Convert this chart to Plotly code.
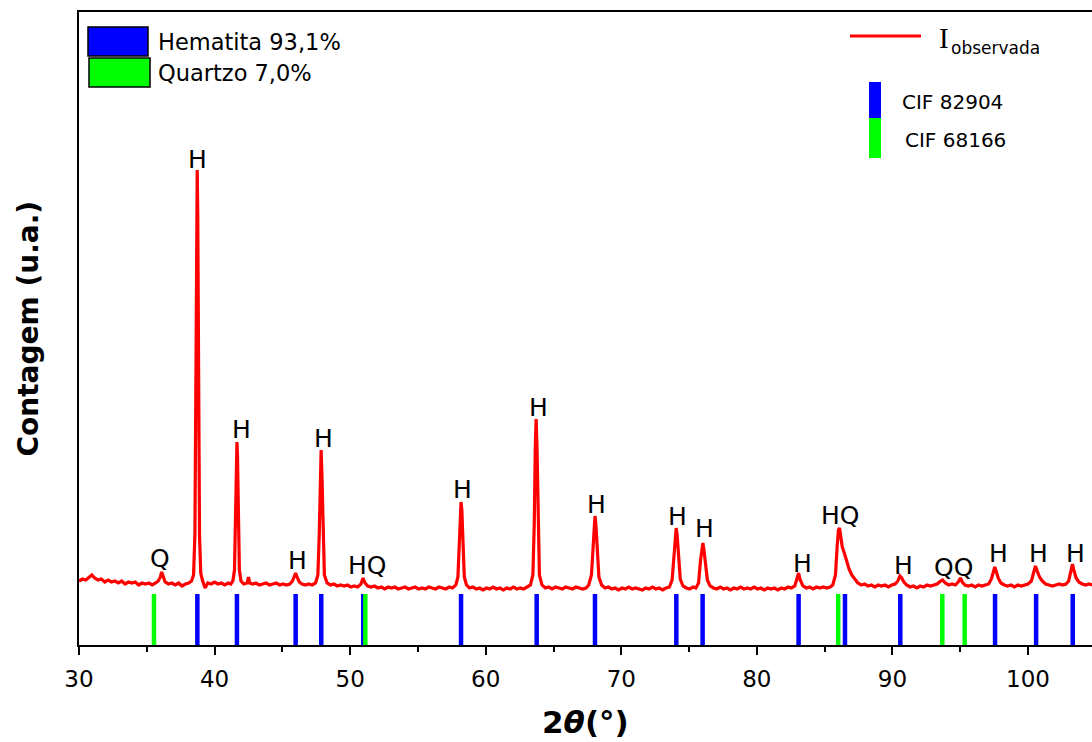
import plotly.graph_objects as go

# ---------------- data ----------------
obs_x = [30.0, 30.25, 30.5, 30.75, 30.95, 31.15, 31.4, 31.65, 31.9, 32.15, 32.4, 32.65, 32.9, 33.15, 33.4,
         33.65, 33.9, 34.15, 34.4, 34.65, 34.9, 35.15, 35.4, 35.65, 35.85, 36.0, 36.1, 36.2, 36.35, 36.6,
         36.85, 37.1, 37.35, 37.6, 37.85, 38.1, 38.3, 38.45, 38.55, 38.62, 38.68, 38.72, 38.76, 38.82, 38.89,
         38.98, 39.1, 39.3, 39.5, 39.75, 40.0, 40.25, 40.5, 40.75, 41.0, 41.2, 41.35, 41.47, 41.55, 41.61,
         41.65, 41.69, 41.75, 41.83, 41.95, 42.15, 42.4, 42.5, 42.6, 42.8, 43.05, 43.3, 43.55, 43.8, 44.05,
         44.3, 44.55, 44.8, 45.05, 45.3, 45.55, 45.75, 45.9, 45.98, 46.08, 46.25, 46.45, 46.7, 46.95, 47.2,
         47.45, 47.62, 47.72, 47.8, 47.86, 47.92, 48.0, 48.1, 48.3, 48.55, 48.8, 49.05, 49.3, 49.55, 49.8,
         50.05, 50.3, 50.55, 50.8, 50.95, 51.1, 51.3, 51.55, 51.8, 52.05, 52.3, 52.55, 52.8, 53.05, 53.3,
         53.55, 53.8, 54.05, 54.3, 54.55, 54.8, 55.05, 55.3, 55.55, 55.8, 56.05, 56.3, 56.55, 56.8, 57.05,
         57.3, 57.55, 57.8, 57.95, 58.05, 58.13, 58.18, 58.24, 58.32, 58.42, 58.58, 58.8, 59.05, 59.3, 59.55,
         59.8, 60.05, 60.3, 60.55, 60.8, 61.05, 61.3, 61.55, 61.8, 62.05, 62.3, 62.55, 62.8, 63.05, 63.3,
         63.48, 63.58, 63.66, 63.72, 63.78, 63.86, 63.96, 64.15, 64.4, 64.65, 64.9, 65.15, 65.4, 65.65, 65.9,
         66.15, 66.4, 66.65, 66.9, 67.15, 67.4, 67.6, 67.8, 67.92, 68.0, 68.06, 68.12, 68.22, 68.35, 68.55,
         68.8, 69.05, 69.3, 69.55, 69.8, 70.05, 70.3, 70.55, 70.8, 71.05, 71.3, 71.55, 71.8, 72.05, 72.3,
         72.55, 72.8, 73.05, 73.3, 73.55, 73.75, 73.88, 73.98, 74.05, 74.12, 74.22, 74.35, 74.55, 74.8, 75.05,
         75.3, 75.5, 75.7, 75.85, 75.95, 76.02, 76.1, 76.22, 76.35, 76.55, 76.8, 77.05, 77.3, 77.55, 77.8,
         78.05, 78.3, 78.55, 78.8, 79.05, 79.3, 79.55, 79.8, 80.05, 80.3, 80.55, 80.8, 81.05, 81.3, 81.55,
         81.8, 82.05, 82.3, 82.55, 82.8, 82.95, 83.08, 83.2, 83.4, 83.65, 83.9, 84.15, 84.4, 84.65, 84.9,
         85.15, 85.4, 85.6, 85.8, 85.93, 86.02, 86.1, 86.18, 86.3, 86.45, 86.6, 86.8, 87.0, 87.2, 87.45,
         87.7, 87.95, 88.2, 88.45, 88.7, 88.95, 89.2, 89.45, 89.7, 89.95, 90.2, 90.4, 90.55, 90.68, 90.85,
         91.05, 91.3, 91.55, 91.8, 92.05, 92.3, 92.55, 92.8, 93.05, 93.3, 93.55, 93.7, 93.9, 94.15, 94.4,
         94.65, 94.85, 95.02, 95.15, 95.35, 95.6, 95.85, 96.1, 96.35, 96.6, 96.85, 97.1, 97.3, 97.45, 97.55,
         97.65, 97.8, 98.0, 98.25, 98.5, 98.75, 99.0, 99.25, 99.5, 99.75, 100.0, 100.25, 100.42, 100.55, 100.68,
         100.85, 101.05, 101.3, 101.55, 101.8, 102.05, 102.3, 102.55, 102.8, 103.0, 103.15, 103.28, 103.4, 103.55, 103.75,
         104.0, 104.25, 104.5, 104.75, 105.0]
obs_y = [64, 66, 65, 68, 70, 67, 65, 66, 63, 65, 63, 64, 62, 64, 61,
         63, 62, 63, 60, 62, 61, 62, 60, 62, 64, 68, 73, 69, 63, 61,
         62, 60, 62, 59, 61, 62, 64, 70, 110, 260, 430, 475, 430, 260, 110,
         72, 65, 57, 62, 61, 63, 61, 62, 60, 62, 61, 64, 75, 130, 190,
         203, 190, 130, 75, 64, 61, 62, 68, 62, 61, 62, 60, 61, 62, 60,
         61, 62, 60, 61, 60, 61, 64, 70, 72, 68, 63, 61, 60, 61, 60,
         62, 70, 110, 170, 195, 170, 110, 70, 62, 60, 61, 59, 60, 59, 60,
         58, 59, 58, 61, 67, 62, 59, 58, 59, 57, 58, 56, 58, 57, 58,
         56, 57, 58, 56, 57, 58, 56, 57, 56, 58, 57, 56, 58, 57, 56,
         58, 57, 60, 68, 100, 135, 143, 135, 100, 68, 60, 57, 58, 56, 57,
         55, 57, 56, 58, 56, 57, 55, 57, 56, 58, 56, 57, 56, 58, 60,
         70, 120, 200, 226, 200, 120, 70, 60, 57, 58, 56, 58, 57, 56, 58,
         57, 56, 58, 57, 56, 57, 60, 70, 105, 125, 129, 122, 95, 68, 60,
         57, 58, 56, 57, 55, 57, 56, 58, 56, 57, 56, 55, 57, 56, 58,
         56, 57, 55, 57, 58, 65, 90, 112, 117, 110, 88, 66, 59, 57, 56,
         58, 57, 62, 85, 100, 102, 95, 78, 65, 59, 57, 56, 58, 56, 57,
         55, 57, 56, 58, 56, 57, 56, 58, 56, 57, 55, 57, 56, 57, 55,
         57, 56, 58, 57, 59, 66, 72, 65, 59, 57, 58, 56, 58, 57, 58,
         57, 58, 60, 70, 100, 115, 117, 110, 98, 92, 84, 76, 70, 66, 62,
         60, 61, 59, 60, 58, 60, 59, 60, 58, 60, 61, 64, 69, 67, 63,
         60, 58, 59, 57, 59, 58, 60, 59, 60, 61, 64, 65, 62, 60, 61,
         60, 63, 67, 63, 60, 59, 60, 58, 60, 59, 60, 61, 66, 75, 78,
         74, 67, 62, 60, 59, 60, 58, 60, 59, 60, 61, 64, 74, 79, 74,
         68, 64, 61, 60, 59, 60, 61, 60, 61, 64, 72, 81, 74, 67, 63,
         61, 60, 61, 60, 61]

hem_pos = [38.73, 41.65, 45.98, 47.87, 50.97, 58.18, 63.76, 68.06, 74.06, 76.0,
           83.08, 86.5, 90.58, 97.57, 100.6, 103.3]
qtz_pos = [35.53, 51.12, 86.0, 93.68, 95.33]
stick_top = 51

peak_text = ["Q", "H", "H", "H", "H", "HQ", "H", "H", "H", "H", "H", "H", "HQ", "H", "QQ", "H", "H", "H"]
peak_x = [35.97, 38.77, 41.95, 46.08, 48.0, 51.24, 58.3, 63.9, 68.2, 74.11, 76.17, 83.4, 86.13, 90.8,
          94.5, 97.8, 100.8, 103.5]
peak_y = [87, 486, 216, 85, 207, 80, 156, 238, 141, 129, 117, 82, 130, 80, 78, 92, 92, 92]

x_ticks = [30, 40, 50, 60, 70, 80, 90, 100]

FONT = "DejaVu Sans"

# ---------------- figure ----------------
fig = go.Figure()

fig.add_trace(go.Scatter(x=obs_x, y=obs_y, mode="lines",
                         line=dict(color="#ff0000", width=3.2), showlegend=False))


def sticks(pos):
    xs, ys = [], []
    for p in pos:
        xs += [p, p, None]
        ys += [0, stick_top, None]
    return xs, ys


hx, hy = sticks(hem_pos)
qx, qy = sticks(qtz_pos)
fig.add_trace(go.Scatter(x=hx, y=hy, mode="lines", line=dict(color="#0000ff", width=4.5),
                         showlegend=False))
fig.add_trace(go.Scatter(x=qx, y=qy, mode="lines", line=dict(color="#00ff00", width=4.5),
                         showlegend=False))

ann = []
for t, x, y in zip(peak_text, peak_x, peak_y):
    ann.append(dict(x=x, y=y, xref="x", yref="y", text=t, showarrow=False,
                    font=dict(family=FONT, size=25, color="black"),
                    xanchor="center", yanchor="middle"))

# plot-area geometry (pixels) for paper coordinates
L, R, T, B = 79, 1092, 12, 645
W, H = R - L, B - T


def px(x):
    return (x - L) / W


def py(y):
    return (B - y) / H


# axis titles
ann.append(dict(x=0.5, y=py(722), xref="paper", yref="paper",
                text="<b>2<i>θ</i>(°)</b>", showarrow=False,
                font=dict(family=FONT, size=31, color="black"),
                xanchor="center", yanchor="middle", borderpad=0))
ann.append(dict(x=px(28), y=0.5, xref="paper", yref="paper",
                text="<b>Contagem (u.a.)</b>", showarrow=False, textangle=-90,
                font=dict(family=FONT, size=28, color="black"),
                xanchor="center", yanchor="middle"))

# legend texts (left)
ann.append(dict(x=px(156), y=py(42), xref="paper", yref="paper", text="Hematita 93,1%",
                showarrow=False, font=dict(family=FONT, size=22.5, color="black"),
                xanchor="left", yanchor="middle"))
ann.append(dict(x=px(156), y=py(73), xref="paper", yref="paper", text="Quartzo 7,0%",
                showarrow=False, font=dict(family=FONT, size=22.5, color="black"),
                xanchor="left", yanchor="middle"))
# legend texts (right)
ann.append(dict(x=px(944), y=py(38), xref="paper", yref="paper", text="I",
                showarrow=False, font=dict(family="Liberation Serif", size=29, color="black"),
                xanchor="center", yanchor="middle"))
ann.append(dict(x=px(949), y=py(48), xref="paper", yref="paper", text="observada",
                showarrow=False, font=dict(family=FONT, size=17, color="black"),
                xanchor="left", yanchor="middle"))
ann.append(dict(x=px(900), y=py(102), xref="paper", yref="paper", text="CIF 82904",
                showarrow=False, font=dict(family=FONT, size=20, color="black"),
                xanchor="left", yanchor="middle"))
ann.append(dict(x=px(903), y=py(140), xref="paper", yref="paper", text="CIF 68166",
                showarrow=False, font=dict(family=FONT, size=20, color="black"),
                xanchor="left", yanchor="middle"))

shapes = [
    dict(type="rect", xref="paper", yref="paper", x0=px(88), x1=px(148), y0=py(56), y1=py(27),
         fillcolor="#0000ff", line=dict(color="black", width=1.5)),
    dict(type="rect", xref="paper", yref="paper", x0=px(89), x1=px(150), y0=py(87), y1=py(58),
         fillcolor="#00ff00", line=dict(color="black", width=1.5)),
    dict(type="line", xref="paper", yref="paper", x0=px(850), x1=px(921), y0=py(36), y1=py(36),
         line=dict(color="#ff0000", width=3)),
    dict(type="rect", xref="paper", yref="paper", x0=px(869), x1=px(881), y0=py(118), y1=py(82),
         fillcolor="#0000ff", line=dict(width=0)),
    dict(type="rect", xref="paper", yref="paper", x0=px(869), x1=px(881), y0=py(158), y1=py(118),
         fillcolor="#00ff00", line=dict(width=0)),
]

fig.update_layout(
    width=1092, height=742,
    margin=dict(l=L, r=1092 - R, t=T, b=742 - B, autoexpand=False),
    paper_bgcolor="white", plot_bgcolor="white",
    showlegend=False,
    annotations=ann, shapes=shapes,
    xaxis=dict(range=[30, 30 + W / 13.557], showline=True, linecolor="black", linewidth=2,
               mirror=True, ticks="outside", ticklen=8, tickwidth=2, tickcolor="black",
               tickvals=x_ticks, ticktext=[str(v) for v in x_ticks], ticklabelstandoff=4,
               minor=dict(dtick=5, tick0=30, ticks="outside", ticklen=5, tickwidth=2,
                          tickcolor="black", showgrid=False),
               showgrid=False, zeroline=False,
               tickfont=dict(family=FONT, size=23, color="black")),
    yaxis=dict(range=[0, H], showline=True, linecolor="black", linewidth=2,
               ticks="", showticklabels=False, showgrid=False, zeroline=False),
)

fig.write_html("out.html")
